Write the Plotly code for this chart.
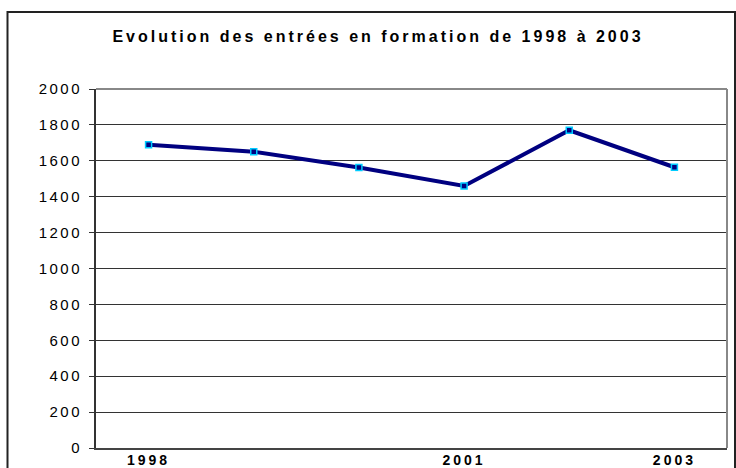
import plotly.graph_objects as go

years = [1998, 1999, 2000, 2001, 2002, 2003]
entrees = [1690, 1651, 1563, 1460, 1770, 1564]
shown_years = [1998, 2001, 2003]
y_ticks = [0, 200, 400, 600, 800, 1000, 1200, 1400, 1600, 1800, 2000]

title_text = "Evolution des entrées en formation de 1998 à 2003"

W, H = 736, 468
L, R, T, B = 96, 9, 89, 20
FONT = "Liberation Sans, Arial, sans-serif"


def spaced(s, px, bold=False):
    inner = f'<span style="letter-spacing:{px}px">{s}</span>'
    return f"<b>{inner}</b>" if bold else inner


fig = go.Figure()
fig.add_trace(go.Scatter(
    x=years, y=entrees, mode="lines+markers",
    line=dict(color="#000080", width=4),
    marker=dict(symbol="square", size=6, color="#000080",
                line=dict(color="#00CCFF", width=1.5)),
    showlegend=False, hoverinfo="x+y",
))

fig.update_layout(
    width=W, height=H,
    margin=dict(l=L, r=R, t=T, b=B, pad=0),
    paper_bgcolor="white", plot_bgcolor="white",
    font=dict(family=FONT, color="black", size=13),
    title=dict(text=spaced(title_text, 3, bold=True), x=378 / W, xanchor="center",
               y=1 - 36 / H, yanchor="middle",
               font=dict(size=16, family=FONT, color="black")),
    xaxis=dict(range=[years[0] - 0.5, years[-1] + 0.5],
               tickvals=shown_years, ticktext=[spaced(str(y), 3, bold=True) for y in shown_years],
               showgrid=False, zeroline=False, showline=True, linecolor="#444", linewidth=1.5,
               ticks="", tickfont=dict(size=14, family=FONT, color="black"),
               ticklabelstandoff=-2, automargin=False),
    yaxis=dict(range=[0, 2000], tickvals=y_ticks, ticktext=[spaced(str(v), 2.5) for v in y_ticks],
               showgrid=True, gridcolor="#333", gridwidth=1, zeroline=False,
               showline=True, linecolor="#333", linewidth=2,
               ticks="outside", ticklen=5, tickcolor="#333", tickwidth=1,
               tickfont=dict(size=15, family=FONT, color="black"), ticklabelstandoff=4,
               automargin=False),
)

# plot-area frame (grey top and right)
fig.add_shape(type="line", xref="paper", yref="paper", x0=0, x1=1, y0=1, y1=1,
              line=dict(color="#888", width=2))
fig.add_shape(type="line", xref="paper", yref="paper", x0=1, x1=1, y0=0, y1=1,
              line=dict(color="#888", width=2))

# outer chart border
pw, ph = W - L - R, H - T - B
fig.add_shape(type="rect", xref="paper", yref="paper",
              x0=(7.5 - L) / pw, x1=(735 - L) / pw,
              y0=(H - B - 475) / ph, y1=(H - B - 12) / ph,
              line=dict(color="#222", width=2), fillcolor="rgba(0,0,0,0)", layer="below")

fig.write_html("out.html", config={"displayModeBar": False},
               post_script="document.body.style.margin='0';")
